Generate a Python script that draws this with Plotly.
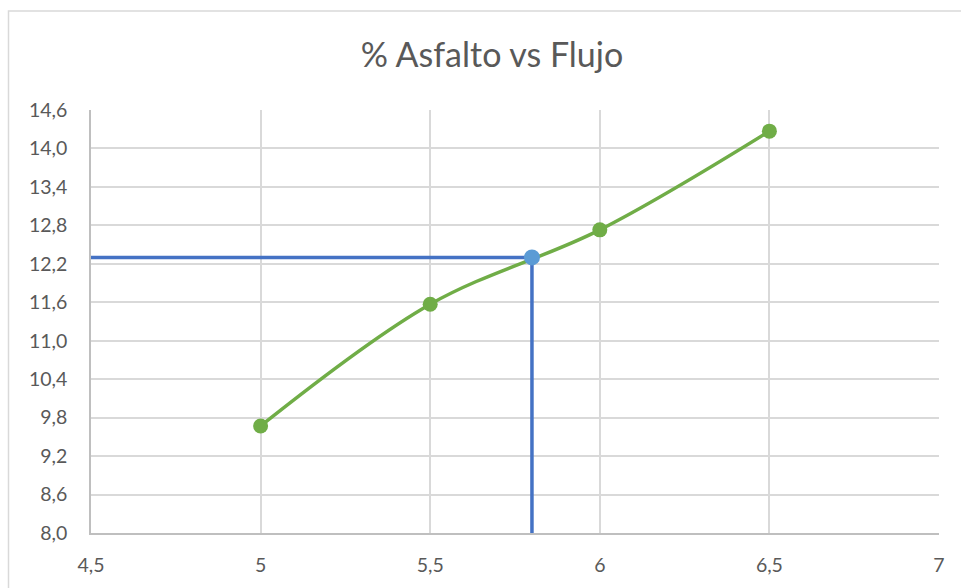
import plotly.graph_objects as go

# % asphalt content vs flow
asfalto = [5.0, 5.5, 6.0, 6.5]
flujo = [9.67, 11.57, 12.73, 14.27]

# design point
asfalto_opt = 5.8
flujo_opt = 12.3

x_range = [4.5, 7.0]
y_range = [8.0, 14.6]
x_ticks = [4.5, 5.0, 5.5, 6.0, 6.5, 7.0]
x_labels = ["4,5", "5", "5,5", "6", "6,5", "7"]
y_ticks = [8.0, 8.6, 9.2, 9.8, 10.4, 11.0, 11.6, 12.2, 12.8, 13.4, 14.0, 14.6]
y_labels = [f"{v:.1f}".replace(".", ",") for v in y_ticks]

GREEN = "#70AD47"
BLUE_LINE = "#4472C4"
BLUE_DOT = "#5B9BD5"
TEXT = "#595959"
GRID = "#D9D9D9"
AXIS = "#BFBFBF"
FONT = "Lato"

fig = go.Figure()

fig.add_trace(go.Scatter(
    x=asfalto, y=flujo, mode="lines+markers",
    line=dict(color=GREEN, width=3.5, shape="spline", smoothing=1),
    marker=dict(color=GREEN, size=15),
    showlegend=False,
))

# guide lines from the design point to both axes
fig.add_trace(go.Scatter(
    x=[x_range[0], asfalto_opt, asfalto_opt],
    y=[flujo_opt, flujo_opt, y_range[0]],
    mode="lines",
    line=dict(color=BLUE_LINE, width=3.5),
    showlegend=False,
))

fig.add_trace(go.Scatter(
    x=[asfalto_opt], y=[flujo_opt], mode="markers",
    marker=dict(color=BLUE_DOT, size=16),
    showlegend=False,
))

L, R, T, B = 91, 22, 110, 53
W, H = 961, 588
pw = W - L - R
ph = H - T - B

fig.update_layout(
    width=W, height=H,
    margin=dict(l=L, r=R, t=T, b=B),
    paper_bgcolor="white", plot_bgcolor="white",
    font=dict(family=FONT, color=TEXT),
    title=dict(
        text="% Asfalto vs Flujo",
        font=dict(family=FONT, size=34, color=TEXT),
        x=492 / W, xref="container", xanchor="center",
        y=1 - 55 / H, yref="container", yanchor="middle",
    ),
    xaxis=dict(
        range=x_range, tickvals=x_ticks, ticktext=x_labels,
        showgrid=True, gridcolor=GRID, gridwidth=1.5,
        showline=True, linecolor=AXIS, linewidth=1.5,
        zeroline=False,
        ticks="outside", ticklen=14, tickcolor="rgba(0,0,0,0)",
        tickfont=dict(family=FONT, size=19.5, color=TEXT),
        fixedrange=True,
    ),
    yaxis=dict(
        range=y_range, tickvals=y_ticks, ticktext=y_labels,
        showgrid=True, gridcolor=GRID, gridwidth=1.5,
        showline=True, linecolor=AXIS, linewidth=1.5,
        zeroline=False,
        ticks="outside", ticklen=18, tickcolor="rgba(0,0,0,0)",
        tickfont=dict(family=FONT, size=19.5, color=TEXT),
        fixedrange=True,
    ),
    shapes=[dict(
        type="rect", xref="paper", yref="paper", layer="below",
        x0=(8.5 - L) / pw, x1=(W + 10 - L) / pw,
        y0=-(B + 10) / ph, y1=(H - B - 10.5) / ph,
        line=dict(color=GRID, width=1.5), fillcolor="rgba(0,0,0,0)",
    )],
)

fig.write_html("out.html")
